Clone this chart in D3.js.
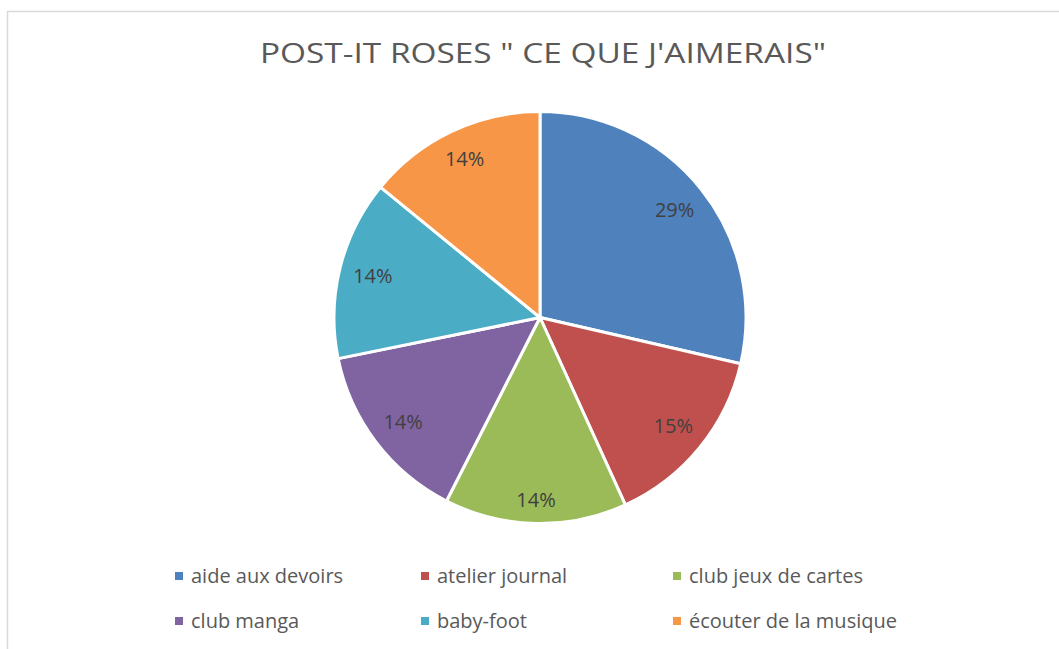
<!DOCTYPE html>
<html>
  <head>
    <meta charset="UTF-8" />
    <style>
      body { margin: 0; background: #fff; }
      svg { display: block; }
    </style>
  </head>
  <body>
    <svg></svg>
    <script src="https://d3js.org/d3.v7.min.js"></script>
    <script>
      let width = 1059,
        height = 649

      // data
      let categories = [
        'aide aux devoirs',
        'atelier journal',
        'club jeux de cartes',
        'club manga',
        'baby-foot',
        'écouter de la musique',
      ]
      let values = [28.6, 14.6, 14.3, 14.3, 14.1, 14.1]
      let colors = ['#4F81BD', '#C0504D', '#9BBB59', '#8064A2', '#4BACC6', '#F79646']
      let title = 'POST-IT ROSES " CE QUE J\'AIMERAIS"'

      let data = categories.map((c, i) => ({ name: c, value: values[i] }))

      let svg = d3.select('svg').attr('width', width).attr('height', height)

      // chart frame (runs off the right and bottom edges)
      svg
        .append('rect')
        .attr('x', 7.5)
        .attr('y', 11.5)
        .attr('width', 1200)
        .attr('height', 800)
        .attr('fill', '#fff')
        .attr('stroke', '#D9D9D9')
        .attr('stroke-width', 1.5)

      // title
      svg
        .append('text')
        .attr('x', 543)
        .attr('y', 63)
        .attr('text-anchor', 'middle')
        .attr('textLength', 566)
        .attr('lengthAdjust', 'spacingAndGlyphs')
        .style('font-family', '"Open Sans", sans-serif')
        .style('font-size', '28px')
        .style('fill', '#595959')
        .text(title)

      let colorScale = d3.scaleOrdinal().domain(categories).range(colors)

      let cx = 540,
        cy = 317.5,
        radius = 206

      let pie = d3.pie().sort(null).value((d) => d.value)
      let arc = d3.arc().innerRadius(0).outerRadius(radius)
      let total = d3.sum(values)

      let g = svg.append('g').attr('transform', `translate(${cx},${cy})`)

      g.selectAll('path')
        .data(pie(data))
        .enter()
        .append('path')
        .attr('d', arc)
        .attr('fill', (d) => colorScale(d.data.name))
        .attr('stroke', '#fff')
        .attr('stroke-width', 3)
        .attr('stroke-linejoin', 'round')

      // labels: "inside end" - push the label box out until its far corner hits rIn
      let rIn = 194,
        hw = 20,
        hh = 10
      function labelPos(d) {
        let a = (d.startAngle + d.endAngle) / 2
        let ux = Math.sin(a),
          uy = -Math.cos(a)
        let cxo = ux >= 0 ? hw : -hw,
          cyo = uy >= 0 ? hh : -hh
        // solve |t*u + c| = rIn for t
        let b = ux * cxo + uy * cyo
        let c = cxo * cxo + cyo * cyo - rIn * rIn
        let t = -b + Math.sqrt(b * b - c)
        return [t * ux, t * uy]
      }

      g.selectAll('text')
        .data(pie(data))
        .enter()
        .append('text')
        .attr('x', (d) => labelPos(d)[0])
        .attr('y', (d) => labelPos(d)[1])
        .attr('dy', '0.35em')
        .attr('text-anchor', 'middle')
        .style('font-family', '"Open Sans", sans-serif')
        .style('font-size', '20px')
        .style('fill', '#404040')
        .text((d) => Math.round((d.data.value / total) * 100) + '%')

      // legend, 3 columns x 2 rows
      let colX = d3.scaleOrdinal().domain([0, 1, 2]).range([175, 421, 673])
      let rowY = d3.scaleOrdinal().domain([0, 1]).range([572, 617])

      let legend = svg
        .append('g')
        .selectAll('g')
        .data(categories)
        .enter()
        .append('g')
        .attr('transform', (d, i) => `translate(${colX(i % 3)},${rowY(Math.floor(i / 3))})`)

      legend
        .append('rect')
        .attr('width', 8)
        .attr('height', 8)
        .attr('fill', (d) => colorScale(d))

      legend
        .append('text')
        .attr('x', 16)
        .attr('y', 11)
        .style('font-family', '"Open Sans", sans-serif')
        .style('font-size', '20px')
        .style('fill', '#595959')
        .text((d) => d)
    </script>
  </body>
</html>
